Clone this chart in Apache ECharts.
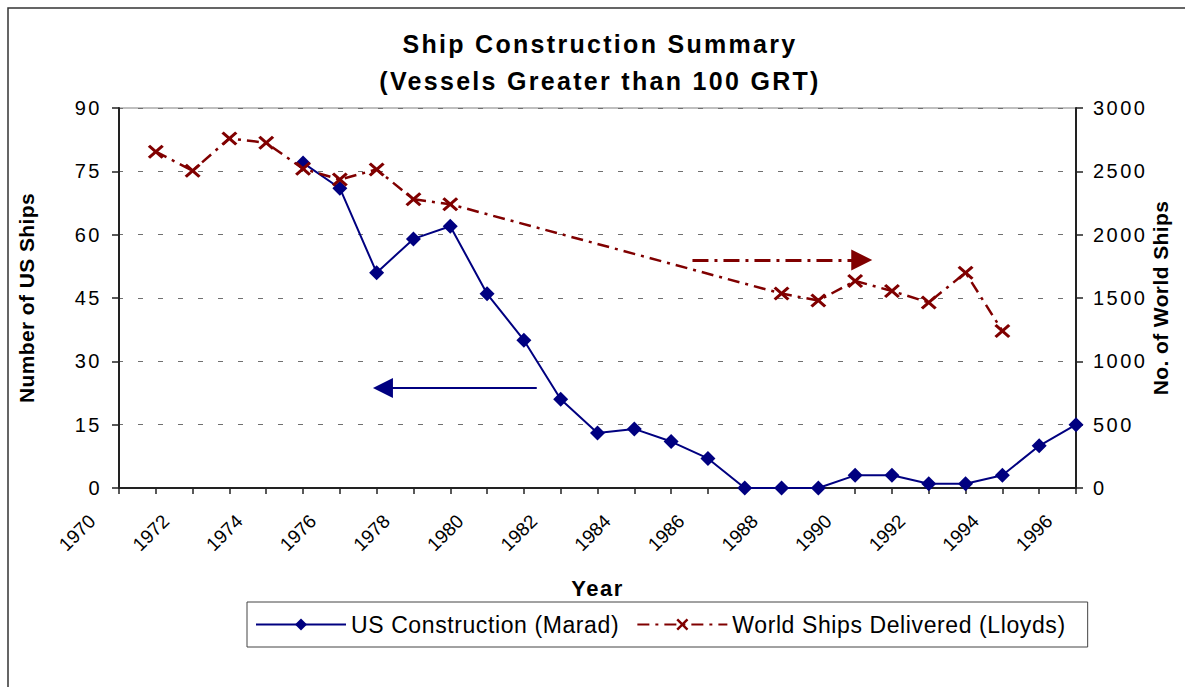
<!DOCTYPE html>
<html>
<head>
<meta charset="utf-8">
<title>Ship Construction Summary</title>
<script src="https://cdn.jsdelivr.net/npm/echarts@6/dist/echarts.min.js"></script>
<style>
html, body { margin: 0; padding: 0; background: #fff; }
#chart { width: 1185px; height: 687px; }
/* wide Excel style letter spacing, picked by font size */
#chart text[style*="25px"] { letter-spacing: 2.3px; }
#chart text[style*="20px"] { letter-spacing: 2.5px; }
#chart text[style*="21px"] { letter-spacing: 0.4px; }
#chart text[style*="22px"] { letter-spacing: 1.5px; }
#chart text[style*="23px"] { letter-spacing: 0.6px; }
</style>
</head>
<body>
<div id="chart"></div>
<script>
var years = ['1970', '1971', '1972', '1973', '1974', '1975', '1976', '1977', '1978',
    '1979', '1980', '1981', '1982', '1983', '1984', '1985', '1986', '1987', '1988',
    '1989', '1990', '1991', '1992', '1993', '1994', '1995', '1996'];

var usShips = [null, null, null, null, null, 77, 71, 51, 59, 62, 46, 35, 21, 13,
    14, 11, 7, 0, 0, 0, 3, 3, 1, 1, 3, 10, 15];

var worldShips = [null, 2655, 2505, 2760, 2725, 2520, 2435, 2515, 2280, 2240,
    null, null, null, null, null, null, null, null,
    1535, 1480, 1635, 1555, 1465, 1700, 1240, null, null];

var leftTicks = [0, 90, 15];     // min, max, step
var rightTicks = [0, 3000, 500];

// annotation arrows: [from index, to index, value]
var usArrow = [11.35, 7.17, 23.7];
var worldArrow = [15.58, 20.18, 1800];

var FONT = 'Liberation Sans';
var navy = '#000080';
var maroon = '#800000';

var chart = echarts.init(document.getElementById('chart'), null, { renderer: 'svg' });

var option = {
    animation: false,
    backgroundColor: '#fff',
    textStyle: { fontFamily: FONT },
    title: {
        text: 'Ship Construction Summary\n(Vessels Greater than 100 GRT)',
        left: 600,
        top: 25,
        padding: 0,
        textAlign: 'center',
        textStyle: {
            fontFamily: FONT,
            fontSize: 25,
            fontWeight: 'bold',
            color: '#000',
            lineHeight: 37
        }
    },
    graphic: [{
        type: 'rect',
        z: -10,
        shape: { x: 8, y: 8, width: 1250, height: 750 },
        style: { fill: 'none', stroke: '#333', lineWidth: 1.5 }
    }],
    legend: {
        left: 247,
        top: 602,
        padding: [11, 40, 11, 8],
        itemWidth: 90,
        itemHeight: 15,
        itemGap: 31,
        borderColor: '#444',
        borderWidth: 1,
        backgroundColor: '#fff',
        textStyle: { fontFamily: FONT, fontSize: 23, color: '#000' },
        data: ['US Construction (Marad)', 'World Ships Delivered (Lloyds)']
    },
    grid: {
        left: 119,
        right: 109,
        top: 108,
        bottom: 199,
        show: true,
        borderColor: '#808080',
        borderWidth: 1,
        backgroundColor: 'transparent'
    },
    xAxis: {
        type: 'category',
        data: years,
        boundaryGap: false,
        name: 'Year',
        nameLocation: 'middle',
        nameGap: 89,
        nameTextStyle: { fontFamily: FONT, fontSize: 22, fontWeight: 'bold', color: '#000' },
        axisLine: { lineStyle: { color: '#222', width: 2 } },
        axisTick: { length: 6, interval: 0, lineStyle: { color: '#222', width: 1.5 } },
        axisLabel: {
            interval: 1,
            rotate: 45,
            margin: 3,
            padding: [0, 38, 0, 0],
            fontFamily: FONT,
            fontSize: 19,
            color: '#000'
        },
        splitLine: { show: false }
    },
    yAxis: [{
        type: 'value',
        min: leftTicks[0],
        max: leftTicks[1],
        interval: leftTicks[2],
        name: 'Number of US Ships',
        nameLocation: 'middle',
        nameRotate: 90,
        nameGap: 82,
        nameTextStyle: { fontFamily: FONT, fontSize: 21, fontWeight: 'bold', color: '#000' },
        axisLine: { show: true, lineStyle: { color: '#222', width: 2 } },
        axisTick: { show: true, length: 7, lineStyle: { color: '#222', width: 1.5 } },
        axisLabel: { margin: 17, fontFamily: FONT, fontSize: 20, color: '#000' },
        splitLine: {
            show: true,
            lineStyle: { color: '#707070', width: 1, type: [5, 15], dashOffset: 1 }
        }
    }, {
        type: 'value',
        position: 'right',
        min: rightTicks[0],
        max: rightTicks[1],
        interval: rightTicks[2],
        name: 'No. of World Ships',
        nameLocation: 'middle',
        nameRotate: 90,
        nameGap: 74,
        nameTextStyle: { fontFamily: FONT, fontSize: 21, fontWeight: 'bold', color: '#000' },
        axisLine: { show: true, lineStyle: { color: '#222', width: 2 } },
        axisTick: { show: true, length: 7, lineStyle: { color: '#222', width: 1.5 } },
        axisLabel: {
            margin: 17, fontFamily: FONT, fontSize: 20, color: '#000',
            formatter: function (v) { return String(v); }
        },
        splitLine: { show: false }
    }],
    series: [{
        name: 'US Construction (Marad)',
        type: 'line',
        yAxisIndex: 0,
        data: usShips,
        symbol: 'diamond',
        symbolSize: 15,
        itemStyle: { color: navy },
        lineStyle: { color: navy, width: 2 }
    }, {
        name: 'World Ships Delivered (Lloyds)',
        type: 'line',
        yAxisIndex: 1,
        data: worldShips,
        connectNulls: true,
        symbol: 'path://M0,2 L2,0 L7,5 L12,0 L14,2 L9,7 L14,12 L12,14 L7,9 L2,14 L0,12 L5,7 Z',
        symbolSize: [16, 14],
        itemStyle: { color: maroon },
        lineStyle: { color: maroon, width: 2.5, type: [12, 6, 3, 6] }
    }]
};

chart.setOption(option);

// category axis rounds fractional indexes, so place arrow ends by interpolating
function xAt(idx) {
    var i = Math.floor(idx);
    var a = chart.convertToPixel({ xAxisIndex: 0 }, i);
    var b = chart.convertToPixel({ xAxisIndex: 0 }, i + 1);
    return a + (b - a) * (idx - i);
}

function arrowLine(arrow, axisIdx) {
    var y = chart.convertToPixel({ yAxisIndex: axisIdx }, arrow[2]);
    return [[{ x: xAt(arrow[0]), y: y }, { x: xAt(arrow[1]), y: y }]];
}

chart.setOption({
    series: [{
        markLine: {
            silent: true,
            symbol: ['none', 'triangle'],
            symbolSize: 20,
            label: { show: false },
            lineStyle: { color: navy, width: 2, type: 'solid' },
            emphasis: { disabled: true },
            data: arrowLine(usArrow, 0)
        }
    }, {
        markLine: {
            silent: true,
            symbol: ['none', 'triangle'],
            symbolSize: 21,
            label: { show: false },
            lineStyle: { color: maroon, width: 3, type: [16, 6, 3, 6] },
            emphasis: { disabled: true },
            data: arrowLine(worldArrow, 1)
        }
    }]
});
</script>
</body>
</html>
